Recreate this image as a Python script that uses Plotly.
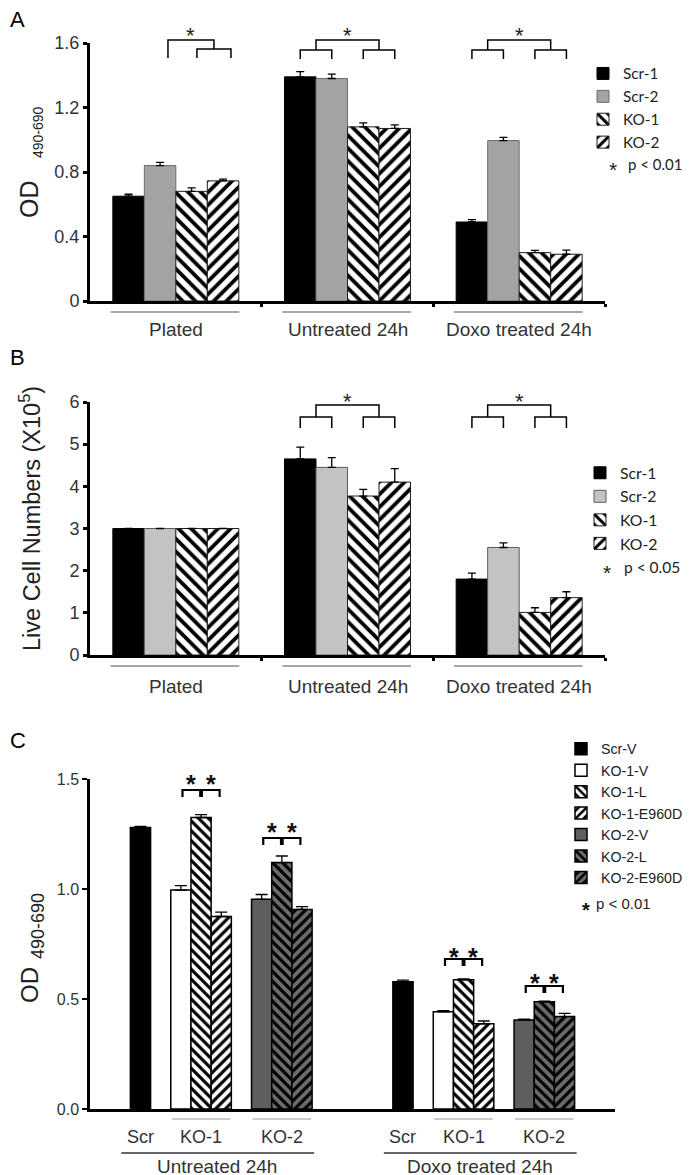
import plotly.graph_objects as go

W, H = 693, 1175
OFF = 8  # default page (body) margin of the html page, in px
FONT = "Liberation Sans, Arial, Helvetica, sans-serif"
LFONT = "Lato, Liberation Sans, sans-serif"

# ---------------- data ----------------
ab_groups = ["Plated", "Untreated 24h", "Doxo treated 24h"]
ab_series = ["Scr-1", "Scr-2", "KO-1", "KO-2"]

# Panel A  (OD 490-690)
a_scr1 = [0.65, 1.39, 0.49]
a_scr2 = [0.84, 1.38, 0.995]
a_ko1 = [0.68, 1.08, 0.30]
a_ko2 = [0.745, 1.07, 0.29]
a_scr1_err = [0.012, 0.032, 0.015]
a_scr2_err = [0.02, 0.027, 0.02]
a_ko1_err = [0.022, 0.025, 0.014]
a_ko2_err = [0.011, 0.022, 0.025]
a_ticks = [0, 0.4, 0.8, 1.2, 1.6]

# Panel B  (Live cell numbers x10^5)
b_scr1 = [3.0, 4.65, 1.80]
b_scr2 = [3.0, 4.45, 2.55]
b_ko1 = [3.0, 3.77, 1.01]
b_ko2 = [3.0, 4.10, 1.36]
b_scr1_err = [0, 0.28, 0.14]
b_scr2_err = [0, 0.23, 0.11]
b_ko1_err = [0, 0.16, 0.11]
b_ko2_err = [0, 0.32, 0.14]
b_ticks = [0, 1, 2, 3, 4, 5, 6]

# Panel C  (OD 490-690)
c_conditions = ["Untreated 24h", "Doxo treated 24h"]
c_lines = ["Scr", "KO-1", "KO-2"]
c_series = ["Scr-V", "KO-1-V", "KO-1-L", "KO-1-E960D", "KO-2-V", "KO-2-L", "KO-2-E960D"]
c_scr_v = [1.28, 0.578]
c_ko1_v = [0.995, 0.442]
c_ko1_l = [1.325, 0.587]
c_ko1_e = [0.875, 0.387]
c_ko2_v = [0.953, 0.405]
c_ko2_l = [1.12, 0.487]
c_ko2_e = [0.907, 0.42]
c_scr_v_err = [0.005, 0.008]
c_ko1_v_err = [0.02, 0.005]
c_ko1_l_err = [0.013, 0.004]
c_ko1_e_err = [0.02, 0.013]
c_ko2_v_err = [0.022, 0.003]
c_ko2_l_err = [0.03, 0.003]
c_ko2_e_err = [0.013, 0.015]
c_ticks = [0.0, 0.5, 1.0, 1.5]


# ---------------- helpers (page pixel -> paper fraction) ----------------
def px_x(p):
    return (p - OFF) / W


def px_y(p):
    return 1 - (p - OFF) / H


fig = go.Figure()
shapes = []
annotations = []


def note(x, y, text, size, xref="paper", color="#222", family=None, xanchor="center",
         textangle=0):
    f = dict(size=size, color=color)
    if family:
        f["family"] = family
    annotations.append(dict(xref=xref, yref="paper", x=x, y=y, text=text, showarrow=False,
                            xanchor=xanchor, yanchor="middle", textangle=textangle, font=f))


bargap = 0.266
bw = (1 - bargap) / len(ab_series)
xg = list(range(len(ab_groups)))


def slot_x(g, s):
    return g + (s - 1.5) * bw


def ab_marker(i, scr2_fill, scr2_line):
    if i == 0:
        return dict(color="#000000", line=dict(color="#000000", width=1))
    if i == 1:
        return dict(color=scr2_fill, line=dict(color=scr2_line, width=1))
    shape = "\\" if i == 2 else "/"
    return dict(color="white", line=dict(color="#202020", width=1),
                pattern=dict(shape=shape, fgcolor="black", bgcolor="white",
                             size=9, solidity=0.42, fillmode="replace"))


def err(arr, width):
    return dict(type="data", array=arr, arrayminus=[0] * len(arr), symmetric=False,
                color="black", thickness=1.3, width=width)


a_vals = [a_scr1, a_scr2, a_ko1, a_ko2]
a_errs = [a_scr1_err, a_scr2_err, a_ko1_err, a_ko2_err]
for i, name in enumerate(ab_series):
    fig.add_trace(go.Bar(x=xg, y=a_vals[i], name=name, xaxis="x", yaxis="y",
                         legend="legend", marker=ab_marker(i, "#a3a3a3", "#6e6e6e"),
                         error_y=err(a_errs[i], 4)))

b_vals = [b_scr1, b_scr2, b_ko1, b_ko2]
b_errs = [b_scr1_err, b_scr2_err, b_ko1_err, b_ko2_err]
for i, name in enumerate(ab_series):
    fig.add_trace(go.Bar(x=xg, y=b_vals[i], name=name, xaxis="x2", yaxis="y2",
                         legend="legend2", marker=ab_marker(i, "#c3c3c3", "#5a5a5a"),
                         error_y=err(b_errs[i], 4)))

c_vals = [c_scr_v, c_ko1_v, c_ko1_l, c_ko1_e, c_ko2_v, c_ko2_l, c_ko2_e]
c_errs = [c_scr_v_err, c_ko1_v_err, c_ko1_l_err, c_ko1_e_err, c_ko2_v_err, c_ko2_l_err, c_ko2_e_err]
c_slot = [0, 2, 3, 4, 6, 7, 8]
c_step = 13
GRAY = "#5e5e5e"
PGRAY = "#6c6c6c"


def c_marker(j):
    line = dict(color="black", width=1.5)
    if j == 0:
        return dict(color="black", line=line)
    if j == 1:
        return dict(color="white", line=line)
    if j == 4:
        return dict(color=GRAY, line=line)
    shape = "\\" if j in (2, 5) else "/"
    bg = "white" if j in (2, 3) else PGRAY
    return dict(color=bg, line=line,
                pattern=dict(shape=shape, fgcolor="black", bgcolor=bg, size=7,
                             solidity=0.45, fillmode="replace"))


for j, name in enumerate(c_series):
    xs = [c_slot[j] + c_step * k for k in range(len(c_conditions))]
    fig.add_trace(go.Bar(x=xs, y=c_vals[j], name=name, xaxis="x3", yaxis="y3",
                         width=1, offset=-0.5, legend="legend3", marker=c_marker(j),
                         error_y=err(c_errs[j], 6)))


# ---------------- brackets / labels ----------------
def path_shape(xref, pts, color="black", width=1.5):
    d = "M " + " L ".join(f"{x},{y}" for x, y in pts)
    shapes.append(dict(type="path", xref=xref, yref="paper", path=d,
                       line=dict(color=color, width=width)))


def tree_bracket(xref, g, left, right, top, sub, bot, star_y):
    def elem(e):
        if len(e) == 1:
            return slot_x(g, e[0]), px_y(bot)
        x1, x2 = slot_x(g, e[0]), slot_x(g, e[1])
        path_shape(xref, [(x1, px_y(bot)), (x1, px_y(sub)), (x2, px_y(sub)), (x2, px_y(bot))])
        return (x1 + x2) / 2, px_y(sub)

    jl, yl = elem(left)
    jr, yr = elem(right)
    path_shape(xref, [(jl, yl), (jl, px_y(top)), (jr, px_y(top)), (jr, yr)])
    note((jl + jr) / 2, px_y(star_y + 5), "*", 22, xref=xref)


tree_bracket("x", 0, (1.25,), (2.17, 3.25), 40, 49, 58, 30)
tree_bracket("x", 1, (0, 1), (2, 3), 40, 50, 59, 30)
tree_bracket("x", 2, (0, 1), (2, 3), 40, 50, 59, 30)
tree_bracket("x2", 1, (0, 1), (2, 3), 405, 417, 428, 396)
tree_bracket("x2", 2, (0, 1), (2, 3), 405, 417, 428, 396)

for xref, line_y, lab_y in (("x", 312, 329), ("x2", 666, 686)):
    for g, lab in enumerate(ab_groups):
        shapes.append(dict(type="line", xref=xref, yref="paper", x0=g - 0.38, x1=g + 0.37,
                           y0=px_y(line_y), y1=px_y(line_y),
                           line=dict(color="#8a8a8a", width=1.5)))
        note(g, px_y(lab_y), lab, 19, xref=xref, color="#333")

# panel C x labels
c_line_center = [0, 3, 7]
for k, cond in enumerate(c_conditions):
    base = c_step * k
    for li, lab in enumerate(c_lines):
        note(base + c_line_center[li], px_y(1137), lab, 18, xref="x3", color="#333")
    for s0 in (2, 6):
        shapes.append(dict(type="line", xref="x3", yref="paper", x0=base + s0 - 0.45,
                           x1=base + s0 + 2.45, y0=px_y(1119), y1=px_y(1119),
                           line=dict(color="#999999", width=1.2)))
    shapes.append(dict(type="line", xref="x3", yref="paper", x0=base - 0.95, x1=base + 8.6,
                       y0=px_y(1153), y1=px_y(1153), line=dict(color="#666666", width=2)))
    note(base + 3.8, px_y(1166), cond, 19, xref="x3", color="#333")

# panel C significance brackets: (condition, first slot, top px, leg bottom px, star px)
c_brackets = [(0, 2, 790, 797, 778), (0, 6, 838, 845, 826),
              (1, 2, 959, 966, 951), (1, 6, 986, 993, 977)]
for k, s0, top, bot, sy in c_brackets:
    base = c_step * k
    for a, b in ((s0 + 0.08, s0 + 0.96), (s0 + 1.04, s0 + 1.92)):
        path_shape("x3", [(base + a, px_y(bot)), (base + a, px_y(top)),
                          (base + b, px_y(top)), (base + b, px_y(bot))], width=2.2)
        note(base + (a + b) / 2, px_y(sy + 6), "<b>*</b>", 25, xref="x3", color="#111")

# axis titles
note(px_x(29), px_y(199), "OD", 25, textangle=-90)
note(px_x(38), px_y(132), "490-690", 14, textangle=-90)
note(px_x(30), px_y(519), "Live Cell Numbers (X10<sup>5</sup>)", 23.5, textangle=-90)
note(px_x(29), px_y(985), "OD", 24, textangle=-90)
note(px_x(38), px_y(926), "490-690", 18, textangle=-90)

# panel letters
for letter, yy in (("A", 20), ("B", 357), ("C", 740)):
    note(px_x(OFF), px_y(yy), letter, 22, color="black", xanchor="left")

# legend significance keys
note(px_x(613), px_y(169), "*", 21)
note(px_x(626), px_y(164), "p < 0.01", 15, family=LFONT, xanchor="left")
note(px_x(607), px_y(572), "*", 21)
note(px_x(622), px_y(567), "p < 0.05", 15.5, family=LFONT, xanchor="left")
note(px_x(586), px_y(910), "<b>*</b>", 20, color="#111")
note(px_x(594), px_y(903), "p < 0.01", 15, xanchor="left")

ycommon = dict(showgrid=False, zeroline=False, showline=True, linecolor="black",
               ticks="outside", tickcolor="black", tickmode="array", fixedrange=True,
               automargin=False)
xcommon = dict(showgrid=False, zeroline=False, showline=True, linecolor="black",
               showticklabels=False, fixedrange=True, automargin=False)

legend_common = dict(xanchor="left", yanchor="top", bgcolor="rgba(0,0,0,0)", borderwidth=0,
                     itemclick=False, itemdoubleclick=False, traceorder="normal")

fig.update_layout(
    width=W, height=H, margin=dict(l=0, r=0, t=0, b=0, pad=0, autoexpand=False),
    paper_bgcolor="white", plot_bgcolor="white",
    font=dict(family=FONT, color="#222"),
    barmode="group", bargap=bargap, bargroupgap=0,
    xaxis=dict(domain=[px_x(90), px_x(605)], range=[-0.5, 2.5], anchor="y", linewidth=3,
               tickmode="array", tickvals=[0.5, 1.5, 2.5], ticks="outside", ticklen=3,
               tickwidth=3, tickcolor="black", **xcommon),
    yaxis=dict(domain=[px_y(301), px_y(43)], range=[0, 1.6], anchor="x", tickvals=a_ticks,
               linewidth=3, ticklen=4, tickwidth=3, tickfont=dict(size=18, color="#333"),
               **ycommon),
    xaxis2=dict(domain=[px_x(90), px_x(605)], range=[-0.5, 2.5], anchor="y2", linewidth=3,
                tickmode="array", tickvals=[0.5, 1.5, 2.5], ticks="outside", ticklen=3,
                tickwidth=3, tickcolor="black", **xcommon),
    yaxis2=dict(domain=[px_y(655), px_y(402)], range=[0, 6], anchor="x2", tickvals=b_ticks,
                linewidth=3, ticklen=4, tickwidth=3, tickfont=dict(size=18, color="#333"),
                **ycommon),
    xaxis3=dict(domain=[px_x(90), px_x(615)], range=[-2.5, 23.5], anchor="y3", linewidth=3,
                ticks="", **xcommon),
    yaxis3=dict(domain=[px_y(1109), px_y(779)], range=[0, 1.5], anchor="x3", tickvals=c_ticks,
                tickformat=".1f", linewidth=2.5, ticklen=5, tickwidth=2,
                tickfont=dict(size=16, color="#333"), **ycommon),
    legend=dict(x=px_x(583), y=px_y(57), font=dict(family=LFONT, size=15.3, color="#222"),
                **legend_common),
    legend2=dict(x=px_x(580), y=px_y(456), font=dict(family=LFONT, size=15.8, color="#222"),
                 **legend_common),
    legend3=dict(x=px_x(561), y=px_y(733), font=dict(family=FONT, size=14.2, color="#222"),
                 **legend_common),
    shapes=shapes,
    annotations=annotations,
)

fig.write_html("out.html")
